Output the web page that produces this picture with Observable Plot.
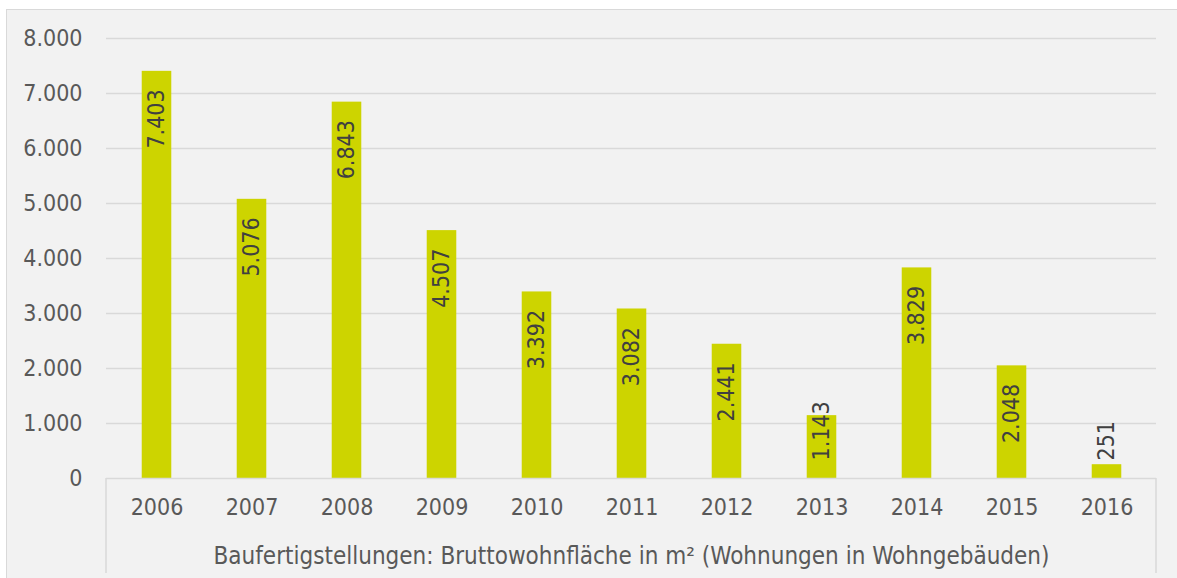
<!DOCTYPE html>
<html><head><meta charset="utf-8">
<script src="https://cdn.jsdelivr.net/npm/d3@7"></script>
<script src="https://cdn.jsdelivr.net/npm/@observablehq/plot@0.6"></script>
<style>
html,body{margin:0;padding:0;background:#fff;}
#wrap{position:relative;width:1177px;height:578px;overflow:hidden;}
#panel{position:absolute;left:6px;top:9px;right:-2px;bottom:-2px;background:#f2f2f2;border:1px solid #d9d9d9;}
#chart{position:absolute;left:0;top:0;}
</style></head><body>
<div id="wrap"><div id="panel"></div><div id="chart"></div></div>
<script>
const years = ["2006","2007","2008","2009","2010","2011","2012","2013","2014","2015","2016"];
const values = [7403,5076,6843,4507,3392,3082,2441,1143,3829,2048,251];
const yTicks = [0,1000,2000,3000,4000,5000,6000,7000,8000];
const xTitle = "Baufertigstellungen: Bruttowohnfläche in m² (Wohnungen in Wohngebäuden)";

const de = d3.formatLocale({decimal: ",", thousands: ".", grouping: [3], currency: ["", " €"]});
const fmt = de.format(",d");
const data = years.map((y, i) => ({year: y, value: values[i], label: fmt(values[i])}));

const W = 1177, H = 578;
const mL = 106, mR = 21, mT = 38, mB = 100;
const fontFamily = "'DejaVu Sans Condensed', 'DejaVu Sans', sans-serif";
const fs = 23;
const ppu = (H - mT - mB) / 8000; // px per unit
const estLen = s => [...s].reduce((a, c) => a + (c === "." ? 0.286 : 0.572), 0) * fs;
const pad = 18;
const labelY = d => Math.max(d.value - pad / ppu, (pad + estLen(d.label)) / ppu);

const step = (W - mL - mR) / years.length;
const barW = 30;
const inset = (step - barW) / 2;

const plot = Plot.plot({
  width: W, height: H,
  marginLeft: mL, marginRight: mR, marginTop: mT, marginBottom: mB,
  style: {background: "transparent", fontFamily, fontSize: fs + "px", color: "#595959"},
  x: {domain: years, padding: 0, label: null},
  y: {domain: [0, 8000], label: null},
  marks: [
    Plot.gridY(yTicks.filter(t => t > 0), {stroke: "#d9d9d9", strokeOpacity: 1, strokeWidth: 1.5}),
    Plot.axisY({ticks: yTicks, tickFormat: fmt, tickSize: 0, tickPadding: 24, fill: "#595959", fontSize: fs, label: null}),
    Plot.axisX({tickSize: 0, tickPadding: 20, fill: "#595959", fontSize: fs, label: null}),
    Plot.barY(data, {x: "year", y: "value", fill: "#cdd400", insetLeft: inset, insetRight: inset}),
    Plot.ruleY([0], {stroke: "#d9d9d9", strokeWidth: 1.5}),
    Plot.text(data, {x: "year", y: labelY, text: "label", rotate: -90, textAnchor: "end", lineAnchor: "middle", fill: "#404040", fontSize: fs}),
    Plot.text([xTitle], {frameAnchor: "bottom", dy: 78, lineAnchor: "middle", fill: "#595959", fontSize: 24})
  ]
});
document.getElementById("chart").appendChild(plot);

// category-box edges of the x axis (derived from scales)
const xr = [mL, W - mR];
const y0 = plot.scale("y").apply(0);
const svg = d3.select(plot);
xr.forEach(x => {
  svg.append("line").attr("x1", x).attr("x2", x).attr("y1", y0).attr("y2", H - 5)
    .attr("stroke", "#d9d9d9").attr("stroke-width", 1.5);
});
</script>
</body></html>
